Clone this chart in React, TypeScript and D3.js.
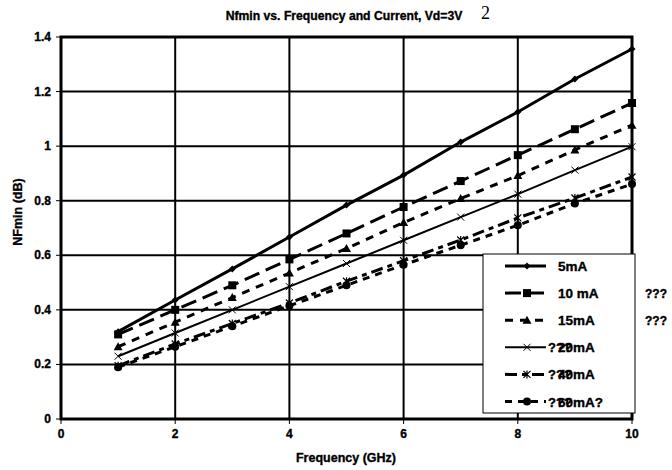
import React from "react";
import * as d3 from "d3";

const freqs = [1, 2, 3, 4, 5, 6, 7, 8, 9, 10];
const nf5 = [0.32, 0.436, 0.55, 0.667, 0.784, 0.894, 1.015, 1.125, 1.246, 1.356];
const nf10 = [0.31, 0.40, 0.49, 0.585, 0.68, 0.777, 0.872, 0.967, 1.062, 1.158];
const nf15 = [0.265, 0.355, 0.445, 0.535, 0.625, 0.72, 0.808, 0.892, 0.986, 1.077];
const nf20 = [0.23, 0.315, 0.40, 0.485, 0.57, 0.655, 0.74, 0.824, 0.912, 0.998];
const nf40 = [0.195, 0.275, 0.35, 0.425, 0.505, 0.58, 0.656, 0.737, 0.81, 0.887];
const nf60 = [0.19, 0.265, 0.34, 0.415, 0.49, 0.565, 0.637, 0.71, 0.79, 0.861];
const seriesNames = ["5mA", "10 mA", "15mA", "20mA", "40mA", "60mA?"];
const xTicks = [0, 2, 4, 6, 8, 10];
const yTicks = [0, 0.2, 0.4, 0.6, 0.8, 1, 1.2, 1.4];

const FONT = "Arial, 'Liberation Sans', sans-serif";

type Style = { width: number; dash: string; marker: string };
const styles: Style[] = [
  { width: 3, dash: "none", marker: "diamond" },
  { width: 3, dash: "16,7", marker: "square" },
  { width: 3, dash: "8,7", marker: "triangle" },
  { width: 2, dash: "none", marker: "x" },
  { width: 3, dash: "12,5,5,5", marker: "star" },
  { width: 3, dash: "7,6", marker: "circle" },
];

function Marker({ kind, x, y }: { kind: string; x: number; y: number }) {
  if (kind === "diamond")
    return <path d={`M${x},${y - 3.5}L${x + 3.5},${y}L${x},${y + 3.5}L${x - 3.5},${y}Z`} fill="#000" />;
  if (kind === "square") return <rect x={x - 4} y={y - 4} width={8} height={8} fill="#000" />;
  if (kind === "triangle")
    return <path d={`M${x},${y - 4.5}L${x + 4.5},${y + 3.5}L${x - 4.5},${y + 3.5}Z`} fill="#000" />;
  if (kind === "x")
    return (
      <path d={`M${x - 3.5},${y - 3.5}L${x + 3.5},${y + 3.5}M${x - 3.5},${y + 3.5}L${x + 3.5},${y - 3.5}`} stroke="#000" strokeWidth={1} />
    );
  if (kind === "star")
    return (
      <path
        d={`M${x - 3.5},${y - 3.5}L${x + 3.5},${y + 3.5}M${x - 3.5},${y + 3.5}L${x + 3.5},${y - 3.5}M${x},${y - 4}L${x},${y + 4}`}
        stroke="#000"
        strokeWidth={1.2}
      />
    );
  return <circle cx={x} cy={y} r={4} fill="#000" />;
}

const bold = { fontWeight: 700, stroke: "#000", strokeWidth: 0.35 } as React.CSSProperties;

export default function App() {
  const W = 672, H = 470;
  const x = d3.scaleLinear().domain([0, 10]).range([61, 632]);
  const y = d3.scaleLinear().domain([0, 1.4]).range([419, 37]);
  const data = [nf5, nf10, nf15, nf20, nf40, nf60];
  const line = d3
    .line<number>()
    .x((_, i) => x(freqs[i]))
    .y((d) => y(d));

  const legX = 483, legY = 254, legW = 152, legH = 159;
  const rowY = (i: number) => 266 + i * 27.1;

  return (
    <svg width={W} height={H} style={{ position: "absolute", left: 0, top: 0 }} fontFamily={FONT}>
      <rect x={0} y={0} width={W} height={H} fill="#fff" />
      {yTicks.map((t) => (
        <line key={"gy" + t} x1={x(0)} x2={x(10)} y1={y(t)} y2={y(t)} stroke="#000" strokeWidth={2} />
      ))}
      {xTicks.map((t) => (
        <line key={"gx" + t} x1={x(t)} x2={x(t)} y1={y(0)} y2={y(1.4)} stroke="#000" strokeWidth={2} />
      ))}
      {yTicks.map((t) => (
        <line key={"ty" + t} x1={x(0) - 5} x2={x(0)} y1={y(t)} y2={y(t)} stroke="#000" strokeWidth={1} />
      ))}
      {xTicks.map((t) => (
        <line key={"tx" + t} x1={x(t)} x2={x(t)} y1={y(0)} y2={y(0) + 5} stroke="#000" strokeWidth={1} />
      ))}
      <rect x={x(0)} y={y(1.4)} width={x(10) - x(0)} height={y(0) - y(1.4)} fill="none" stroke="#000" strokeWidth={3} />
      {data.map((s, si) => (
        <g key={"s" + si}>
          <path d={line(s) || ""} fill="none" stroke="#000" strokeWidth={styles[si].width} strokeDasharray={styles[si].dash} />
          {s.map((v, i) => (
            <Marker key={i} kind={styles[si].marker} x={x(freqs[i])} y={y(v)} />
          ))}
        </g>
      ))}
      {yTicks.map((t) => (
        <text key={"ly" + t} x={51} y={y(t) + 4} textAnchor="end" fontSize={12} style={bold}>
          {d3.format("~g")(t)}
        </text>
      ))}
      {xTicks.map((t) => (
        <text key={"lx" + t} x={x(t)} y={438} textAnchor="middle" fontSize={12} style={bold}>
          {t}
        </text>
      ))}
      <text x={344} y={20} textAnchor="middle" fontSize={12.2} style={bold}>
        Nfmin vs. Frequency and Current, Vd=3V
      </text>
      <text x={481} y={19} fontSize={18} fontFamily="'Liberation Serif', 'DejaVu Serif', serif">
        2
      </text>
      <text x={346} y={462} textAnchor="middle" fontSize={12.5} style={bold}>
        Frequency (GHz)
      </text>
      <text transform="translate(22,212) rotate(-90)" textAnchor="middle" fontSize={12.5} style={bold}>
        NFmin (dB)
      </text>
      <rect x={legX} y={legY} width={legW} height={legH} fill="#fff" stroke="#000" strokeWidth={1} />
      {seriesNames.map((n, i) => (
        <g key={"lg" + i}>
          <line x1={505} x2={546} y1={rowY(i)} y2={rowY(i)} stroke="#000" strokeWidth={styles[i].width} strokeDasharray={styles[i].dash} />
          <Marker kind={styles[i].marker} x={527} y={rowY(i)} />
          <text x={558} y={rowY(i) + 5} fontSize={13.5} style={bold}>
            {n}
          </text>
          {i >= 3 && (
            <text x={548} y={rowY(i) + 5} fontSize={13} style={bold}>
              ???
            </text>
          )}
        </g>
      ))}
      <text x={645} y={rowY(1) + 5} fontSize={12} style={bold}>???</text>
      <text x={645} y={rowY(2) + 5} fontSize={12} style={bold}>???</text>
    </svg>
  );
}
